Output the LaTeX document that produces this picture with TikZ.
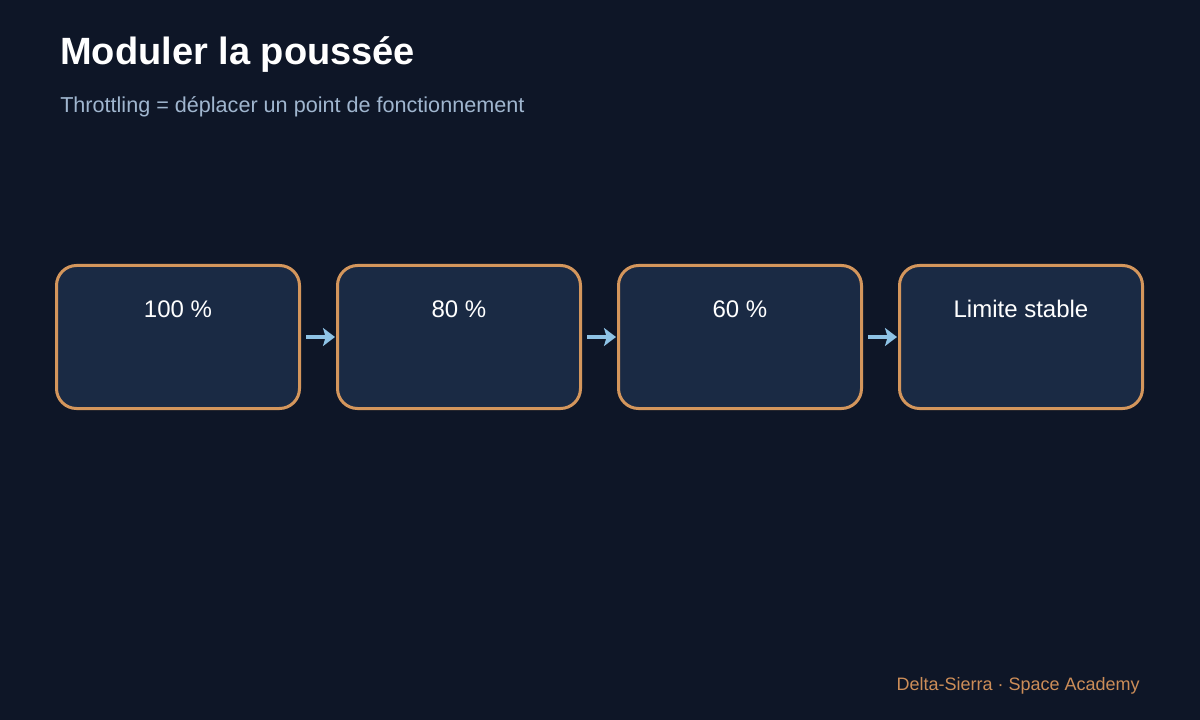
\documentclass[tikz,border=0pt]{standalone}
\usepackage{fontspec}
\setmainfont{Liberation Sans}
\usepackage{tikz}
\usetikzlibrary{positioning}
\usetikzlibrary{arrows.meta}
\definecolor{bgcol}{RGB}{14,22,39}
\definecolor{boxfill}{RGB}{26,42,68}
\definecolor{boxline}{RGB}{212,150,92}
\definecolor{subcol}{RGB}{160,182,207}
\definecolor{footcol}{RGB}{204,141,88}
\definecolor{arrcol}{RGB}{142,195,230}

\begin{document}
\begin{tikzpicture}[x=0.75pt,y=-0.75pt,
  stage/.style={draw=boxline,line width=2.25pt,fill=boxfill,rounded corners=15pt,
    minimum width=182.25pt,minimum height=107.25pt,inner sep=0pt},
  stagelbl/.style={anchor=base,inner sep=0pt,text=white,font=\fontsize{18pt}{20pt}\selectfont},
  flow/.style={arrcol,line width=3.4pt,-{Stealth[length=9pt,width=13.5pt,inset=2pt]},shorten <=3.75pt,shorten >=0.75pt}]
  \fill[bgcol] (0,0) rectangle (1200,720);
  \useasboundingbox (0,0) rectangle (1200,720);
  \node[anchor=base west,inner sep=0pt,text=white,font=\fontsize{28.5pt}{32pt}\selectfont\bfseries] (title) at (60,65) {Moduler la poussée};
  \node[anchor=base west,inner sep=0pt,text=subcol,font=\fontsize{16.2pt}{19pt}\selectfont] (subtitle) at (60,113) {Throttling = déplacer un point de fonctionnement};
  \node[stage] (s100) at (178,337) {};
  \node[stage,right=26.25pt of s100] (s80) {};
  \node[stage,right=26.25pt of s80] (s60) {};
  \node[stage,right=26.25pt of s60] (slim) {};
  \node[stagelbl] (l100) at ([yshift=-40.5pt]s100.north) {100 \%};
  \node[stagelbl] (l80) at ([yshift=-40.5pt]s80.north) {80 \%};
  \node[stagelbl] (l60) at ([yshift=-40.5pt]s60.north) {60 \%};
  \node[stagelbl] (llim) at ([yshift=-40.5pt]slim.north) {Limite stable};
  \draw[flow] (s100) -- (s80);
  \draw[flow] (s80) -- (s60);
  \draw[flow] (s60) -- (slim);
  \node[anchor=base east,inner sep=0pt,text=footcol,font=\fontsize{13.5pt}{16pt}\selectfont] (footer) at (1140,690) {Delta-Sierra · Space Academy};
\end{tikzpicture}
\end{document}
